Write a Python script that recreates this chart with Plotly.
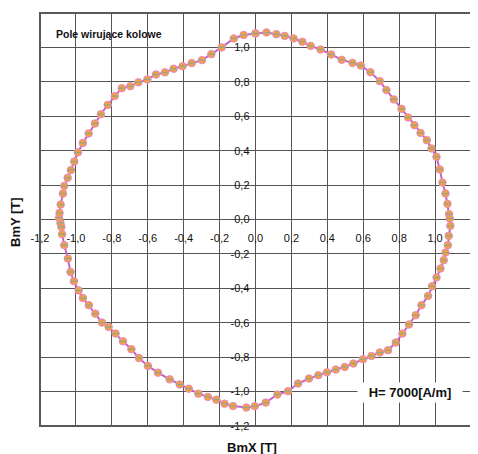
import plotly.graph_objects as go

# Data (BmX, BmY in tesla), traced clockwise from the top
bmx = [0.000, 0.061, 0.116, 0.163, 0.212, 0.261, 0.307, 0.362, 0.421, 0.480,
       0.540, 0.586, 0.640, 0.692, 0.729, 0.770, 0.813, 0.850, 0.885, 0.919,
       0.954, 0.980, 1.008, 1.026, 1.041, 1.058, 1.069, 1.078,
       1.082, 1.085, 1.076, 1.071, 1.058, 1.048, 1.030, 1.008, 0.983, 0.961,
       0.924, 0.892, 0.855, 0.818, 0.781, 0.738, 0.692, 0.646, 0.599, 0.545,
       0.497, 0.447, 0.398, 0.350, 0.298, 0.237, 0.181, 0.122, 0.057, -0.004,
       -0.051, -0.125, -0.172, -0.218, -0.265, -0.318, -0.372, -0.422, -0.478,
       -0.543, -0.599, -0.649, -0.691, -0.738, -0.779, -0.818, -0.855, -0.892,
       -0.928, -0.961, -0.985, -1.011, -1.030, -1.045, -1.065, -1.077, -1.081,
       -1.086, -1.094,
       -1.091, -1.085, -1.072, -1.065, -1.046, -1.028, -1.009, -0.989, -0.961,
       -0.929, -0.894, -0.861, -0.823, -0.784, -0.745, -0.697, -0.652, -0.602,
       -0.554, -0.504, -0.456, -0.406, -0.355, -0.298, -0.246, -0.188, -0.121,
       -0.066, 0.000]
bmy = [1.081, 1.087, 1.077, 1.067, 1.052, 1.033, 1.009, 0.988, 0.959, 0.928,
       0.910, 0.895, 0.856, 0.804, 0.752, 0.698, 0.643, 0.593, 0.548, 0.503,
       0.461, 0.413, 0.364, 0.291, 0.215, 0.151, 0.091, 0.031,
       0.006, -0.037, -0.095, -0.149, -0.192, -0.237, -0.285, -0.337, -0.388,
       -0.444, -0.498, -0.556, -0.610, -0.663, -0.715, -0.760, -0.773, -0.793,
       -0.812, -0.837, -0.857, -0.872, -0.888, -0.905, -0.924, -0.953, -0.998,
       -1.017, -1.064, -1.085,
       -1.093, -1.084, -1.070, -1.047, -1.031, -1.012, -0.983, -0.959, -0.929,
       -0.890, -0.851, -0.805, -0.754, -0.708, -0.663, -0.624, -0.599, -0.547,
       -0.498, -0.456, -0.412, -0.359, -0.305, -0.227, -0.149, -0.085, -0.043,
       -0.020, 0.010,
       0.038, 0.087, 0.151, 0.195, 0.242, 0.287, 0.337, 0.390, 0.445, 0.500,
       0.558, 0.612, 0.666, 0.717, 0.763, 0.775, 0.797, 0.814, 0.843, 0.855,
       0.876, 0.891, 0.909, 0.926, 0.961, 1.000, 1.052, 1.072, 1.081]

tick_vals = [-1.2, -1.0, -0.8, -0.6, -0.4, -0.2, 0.0, 0.2, 0.4, 0.6, 0.8, 1.0, 1.2]
tick_text = ["-1,2", "-1,0", "-0,8", "-0,6", "-0,4", "-0,2", "0,0",
             "0,2", "0,4", "0,6", "0,8", "1,0", "1,2"]

title_text = "Pole wirujące kolowe"
field_text = "H= 7000[A/m]"
x_title = "BmX [T]"
y_title = "BmY [T]"

FONT = "Liberation Sans, Arial, sans-serif"
GRID = "#555555"

fig = go.Figure()
fig.add_trace(go.Scatter(
    x=bmx, y=bmy, mode="lines+markers",
    line=dict(color="#C464C4", width=2),
    marker=dict(symbol="circle", size=7.5, color="#F0A040",
                line=dict(color="#E58CC8", width=1)),
    showlegend=False, hoverinfo="skip"))
fig.add_trace(go.Scatter(
    x=bmx, y=bmy, mode="markers",
    marker=dict(symbol="line-ew", size=5,
                line=dict(color="#93A58F", width=1.2)),
    showlegend=False, hoverinfo="skip"))

axis_common = dict(
    range=[-1.2, 1.2], tickvals=tick_vals, ticktext=tick_text,
    showgrid=True, gridcolor=GRID, gridwidth=1,
    zeroline=True, zerolinecolor=GRID, zerolinewidth=1,
    showline=False, ticks="", anchor="free", position=0.5, automargin=False,
    tickfont=dict(family=FONT, size=11, color="#111111"),
)
fig.update_xaxes(**axis_common, ticklabelstandoff=10)
fig.update_yaxes(**axis_common, ticklabelstandoff=6)

# The page body has an 8px margin, so the figure is sized 8px smaller and
# its top/left margins are reduced by 8px to land on the reference layout.
fig.update_layout(
    width=470, height=446,
    margin=dict(l=32, r=7, t=5, b=28, autoexpand=False),
    paper_bgcolor="white", plot_bgcolor="white",
    font=dict(family=FONT),
    shapes=[dict(type="rect", xref="paper", yref="paper", x0=0, x1=1, y0=0, y1=1,
                 line=dict(color="#595959", width=2), layer="above")],
    annotations=[
        dict(text="<b>" + title_text + "</b>", xref="paper", yref="paper",
             x=0.0325, y=0.950, xanchor="left", yanchor="middle", showarrow=False,
             font=dict(family=FONT, size=10.5, color="#111111")),
        dict(text="<b>" + field_text + "</b>", xref="paper", yref="paper",
             x=0.858, y=0.081, xanchor="center", yanchor="middle", showarrow=False,
             width=104, height=19, bgcolor="white", borderpad=0,
             font=dict(family=FONT, size=13, color="#111111")),
        dict(text="<b>" + x_title + "</b>", xref="paper", yref="paper",
             x=0.492, y=-0.051, xanchor="center", yanchor="middle", showarrow=False,
             font=dict(family=FONT, size=13, color="#111111")),
        dict(text="<b>" + y_title + "</b>", xref="paper", yref="paper",
             x=-0.0557, y=0.494, xanchor="center", yanchor="middle", showarrow=False,
             textangle=-90, font=dict(family=FONT, size=13, color="#111111")),
    ],
)

fig.write_html("out.html")
